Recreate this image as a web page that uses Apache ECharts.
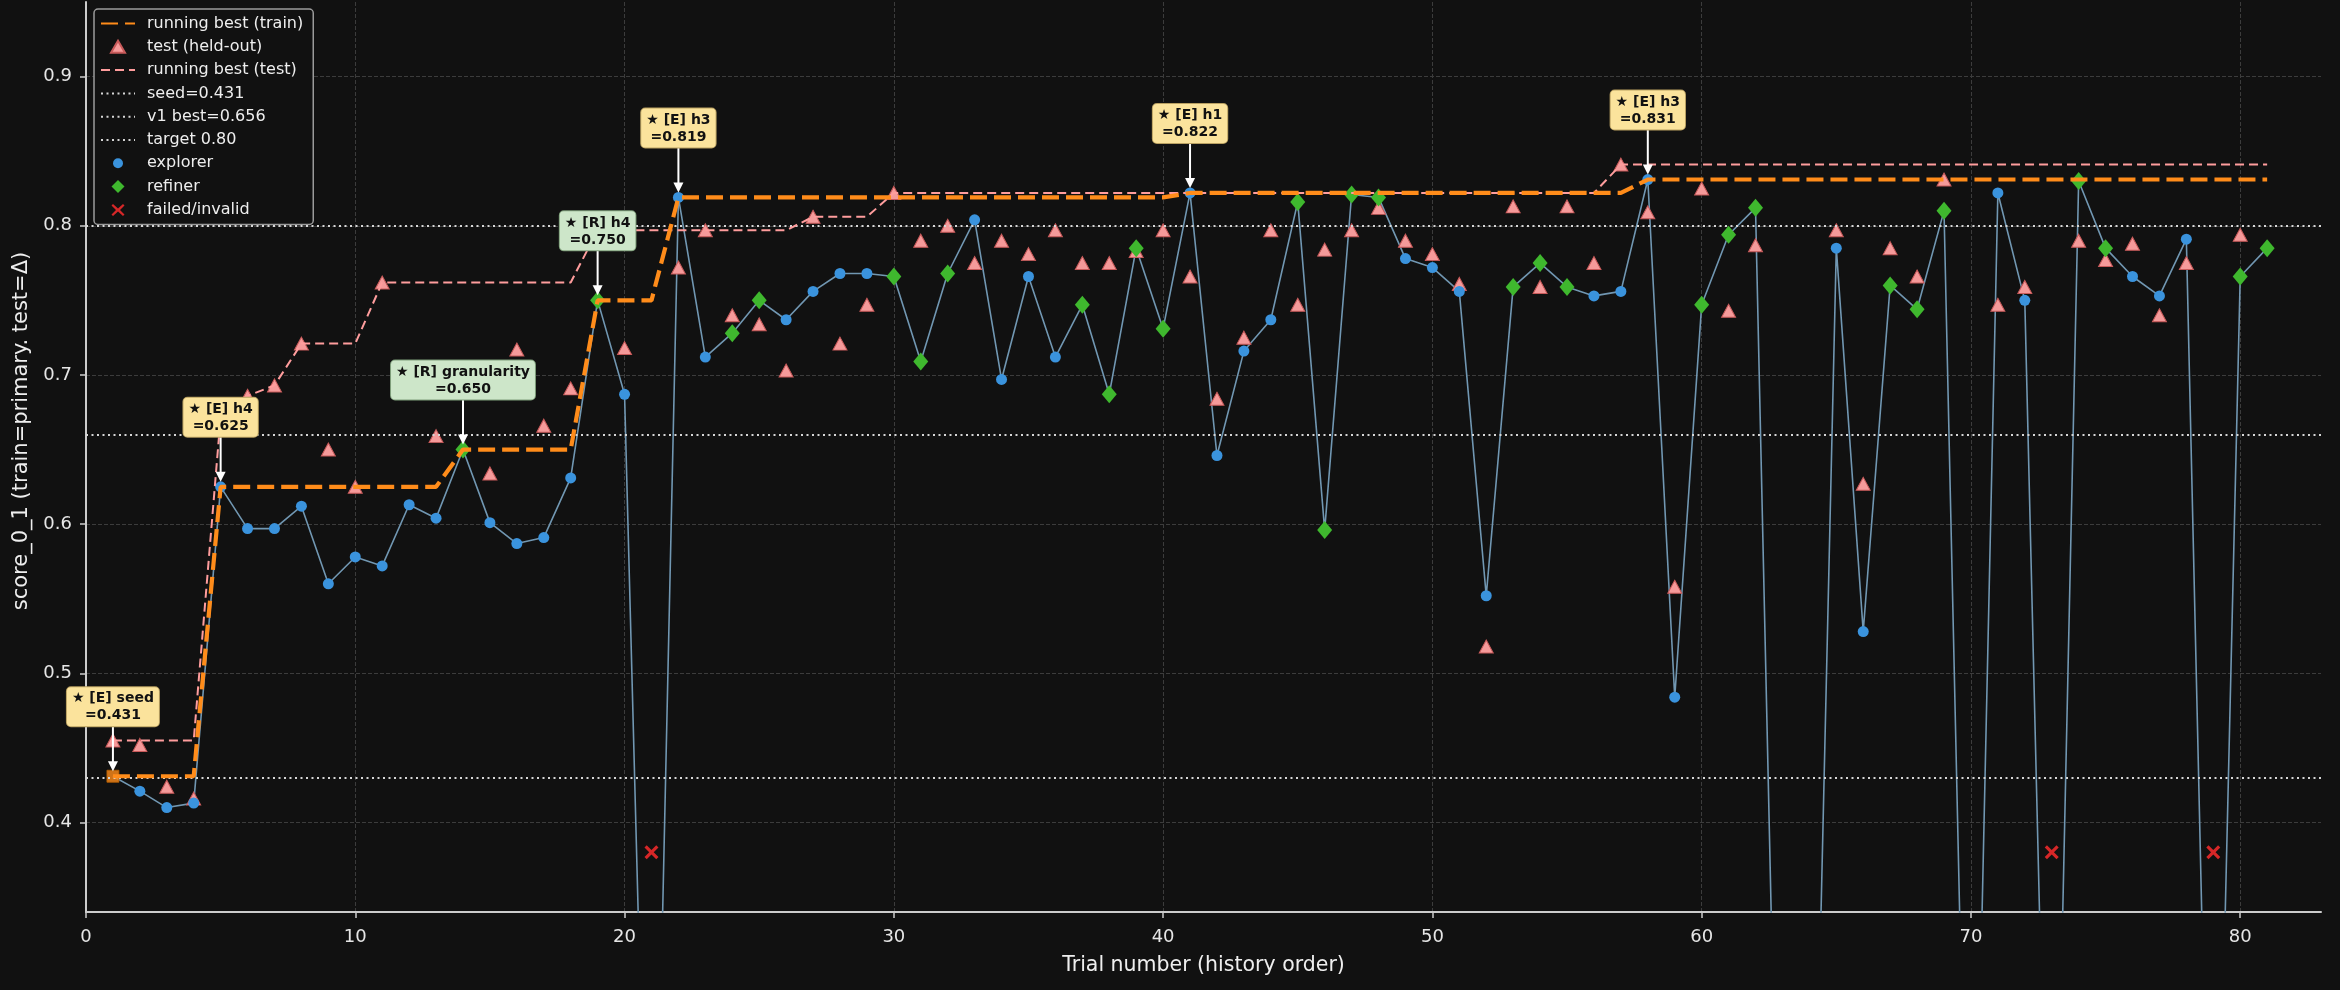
<!DOCTYPE html>
<html lang="en">
<head>
  <meta charset="UTF-8">
  <title>trial history</title>
  <script src="https://cdn.jsdelivr.net/npm/echarts@6/dist/echarts.min.js"></script>
  <style>
    html, body { margin: 0; padding: 0; background: #111111; }
    #chart { width: 2340px; height: 990px; }
  </style>
</head>
<body>
  <div id="chart"></div>
  <script>
    // train score per trial (trial number = index + 1), 0 = scored nothing / failed
    const trainScore = [
      0.431, 0.421, 0.410, 0.413, 0.625, 0.597, 0.597, 0.612, 0.560, 0.578,
      0.572, 0.613, 0.604, 0.650, 0.601, 0.587, 0.591, 0.631, 0.750, 0.687,
      0,     0.819, 0.712, 0.728, 0.750, 0.737, 0.756, 0.768, 0.768, 0.766,
      0.709, 0.768, 0.804, 0.697, 0.766, 0.712, 0.747, 0.687, 0.785, 0.731,
      0.822, 0.646, 0.716, 0.737, 0.816, 0.596, 0.821, 0.819, 0.778, 0.772,
      0.756, 0.552, 0.759, 0.775, 0.759, 0.753, 0.756, 0.831, 0.484, 0.747,
      0.794, 0.812, 0,     0,     0.785, 0.528, 0.760, 0.744, 0.810, 0,
      0.822, 0.750, 0,     0.830, 0.785, 0.766, 0.753, 0.791, 0,     0.766,
      0.785
    ];

    // S = seed, E = explorer, R = refiner, F = failed/invalid
    const roles = [
      'S', 'E', 'E', 'E', 'E', 'E', 'E', 'E', 'E', 'E',
      'E', 'E', 'E', 'R', 'E', 'E', 'E', 'E', 'R', 'E',
      'F', 'E', 'E', 'R', 'R', 'E', 'E', 'E', 'E', 'R',
      'R', 'R', 'E', 'E', 'E', 'E', 'R', 'R', 'R', 'R',
      'E', 'E', 'E', 'E', 'R', 'R', 'R', 'R', 'E', 'E',
      'E', 'E', 'R', 'R', 'R', 'E', 'E', 'E', 'E', 'R',
      'R', 'R', 'E', 'E', 'E', 'E', 'R', 'R', 'R', 'R',
      'E', 'E', 'F', 'R', 'R', 'E', 'E', 'E', 'F', 'R',
      'R'
    ];

    // held-out test score per trial, null where there is none
    const testScore = [
      0.455, 0.452, 0.424, 0.416, 0.672, 0.686, 0.693, 0.721, 0.650, 0.625,
      0.762, null,  0.659, null,  0.634, 0.717, 0.666, 0.691, 0.797, 0.718,
      null,  0.772, 0.797, 0.740, 0.734, 0.703, 0.806, 0.721, 0.747, 0.822,
      0.790, 0.800, 0.775, 0.790, 0.781, 0.797, 0.775, 0.775, 0.783, 0.797,
      0.766, 0.684, 0.725, 0.797, 0.747, 0.784, 0.797, 0.812, 0.790, 0.781,
      0.761, 0.518, 0.813, 0.759, 0.813, 0.775, 0.841, 0.809, 0.558, 0.825,
      0.743, 0.787, null,  null,  0.797, 0.627, 0.785, 0.766, 0.831, null,
      0.747, 0.759, null,  0.790, 0.777, 0.788, 0.740, 0.775, null,  0.794,
      null
    ];

    const seedScore = 0.431;
    const v1Best = 0.656;
    const targetScore = 0.80;
    const failedMarkY = 0.38;

    const xTicks = [0, 10, 20, 30, 40, 50, 60, 70, 80];
    const yTicks = [0.4, 0.5, 0.6, 0.7, 0.8, 0.9];

    // starred improvements
    const annotations = [
      { trial: 1,  text: '★ [E] seed',        role: 'E' },
      { trial: 5,  text: '★ [E] h4',          role: 'E' },
      { trial: 14, text: '★ [R] granularity', role: 'R' },
      { trial: 19, text: '★ [R] h4',          role: 'R' },
      { trial: 22, text: '★ [E] h3',          role: 'E' },
      { trial: 41, text: '★ [E] h1',          role: 'E' },
      { trial: 58, text: '★ [E] h3',          role: 'E' }
    ];

    const FONT = 'DejaVu Sans';
    const trials = trainScore.map((_, i) => i + 1);

    function pointsFor(role) {
      return trials.filter((t, i) => roles[i] === role).map(t => [t, trainScore[t - 1]]);
    }

    // running best lines
    let best = -Infinity;
    const bestTrain = trials.map((t, i) => {
      if (roles[i] !== 'F') best = Math.max(best, trainScore[i]);
      return [t, best];
    });
    best = -Infinity;
    const bestTest = trials.map((t, i) => {
      if (testScore[i] != null) best = Math.max(best, testScore[i]);
      return [t, best];
    });

    const refStyle = { color: '#d6d6d6', width: 2, type: [2, 3.5] };
    function refLine(name, value) {
      return {
        name: name,
        type: 'line',
        data: [],
        symbol: 'none',
        lineStyle: refStyle,
        itemStyle: { color: '#d6d6d6' },
        markLine: {
          silent: true,
          symbol: 'none',
          label: { show: false },
          lineStyle: refStyle,
          emphasis: { disabled: true },
          data: [{ yAxis: value }]
        },
        z: 1
      };
    }

    // legend icons: small marker centred in a 34x13 box (corner points keep the box size)
    const box = 'M0,0L0,0M34,13L34,13';
    const lineOnly = name => ({ name: name, itemStyle: { opacity: 0 } });
    const marker = (name, shape) => ({ name: name, icon: 'path://' + box + shape });

    const chart = echarts.init(document.getElementById('chart'));

    const option = {
      backgroundColor: '#111111',
      animation: false,
      textStyle: { fontFamily: FONT },
      grid: { left: 86, right: 19, top: 2, bottom: 78 },
      legend: {
        orient: 'vertical',
        left: 94,
        top: 9,
        padding: [6, 10, 6, 6],
        itemGap: 6.3,
        itemWidth: 34,
        itemHeight: 13,
        backgroundColor: '#111111',
        borderColor: '#9a9a9a',
        borderWidth: 1.5,
        borderRadius: 4,
        textStyle: { color: '#eeeeee', fontSize: 16, fontFamily: FONT, lineHeight: 17, padding: [0, 0, 0, 7] },
        data: [
          lineOnly('running best (train)'),
          marker('test (held-out)', 'M10,12.5L17,0.5L24,12.5Z'),
          lineOnly('running best (test)'),
          lineOnly('seed=0.431'), lineOnly('v1 best=0.656'), lineOnly('target 0.80'),
          marker('explorer', 'M12,6.5A5,5 0 1,0 22,6.5A5,5 0 1,0 12,6.5Z'),
          marker('refiner', 'M17,0L23.5,6.5L17,13L10.5,6.5Z'),
          marker('failed/invalid', 'M10.5,2L12,0.5L17,5L22,0.5L23.5,2L19,6.5L23.5,11L22,12.5L17,8L12,12.5L10.5,11L15,6.5Z')
        ]
      },
      xAxis: {
        type: 'value',
        min: 0,
        max: 83,
        name: 'Trial number (history order)',
        nameLocation: 'middle',
        nameGap: 43,
        nameTextStyle: { color: '#eeeeee', fontSize: 20.5, fontFamily: FONT },
        axisLine: { lineStyle: { color: '#cccccc', width: 2 } },
        axisTick: { customValues: xTicks, length: 6, lineStyle: { color: '#cccccc', width: 1.5 } },
        axisLabel: { customValues: xTicks, color: '#e6e6e6', fontSize: 18, margin: 16, fontFamily: FONT },
        splitLine: { show: true, lineStyle: { color: '#3c3c3c', width: 1, type: [4, 2] } }
      },
      yAxis: {
        type: 'value',
        min: 0.34,
        max: 0.95,
        name: 'score_0_1 (train=primary. test=Δ)',
        nameLocation: 'middle',
        nameGap: 47,
        nameTextStyle: { color: '#eeeeee', fontSize: 21, fontFamily: FONT, padding: [0, 0, 0, 52] },
        axisLine: { show: true, lineStyle: { color: '#cccccc', width: 2 } },
        axisTick: { show: true, customValues: yTicks, length: 6, lineStyle: { color: '#cccccc', width: 1.5 } },
        axisLabel: {
          customValues: yTicks, color: '#e6e6e6', fontSize: 18, margin: 14, fontFamily: FONT,
          formatter: v => v.toFixed(1)
        },
        splitLine: { show: true, lineStyle: { color: '#3c3c3c', width: 1, type: [4, 2] } }
      },
      series: [
        {
          name: 'train',
          type: 'line',
          data: trials.map((t, i) => [t, trainScore[i]]),
          symbol: 'none',
          lineStyle: { color: '#7197b2', width: 1.6 },
          silent: true,
          z: 2
        },
        refLine('seed=0.431', seedScore),
        refLine('v1 best=0.656', v1Best),
        refLine('target 0.80', targetScore),
        {
          name: 'test (held-out)',
          type: 'scatter',
          data: trials.map((t, i) => [t, testScore[i]]).filter(p => p[1] != null),
          symbol: 'triangle',
          symbolSize: [14, 13],
          itemStyle: { color: '#f59a9a', borderColor: '#c85a5a', borderWidth: 1, opacity: 1 },
          z: 3
        },
        {
          name: 'explorer',
          type: 'scatter',
          data: pointsFor('E'),
          symbol: 'circle',
          symbolSize: 11,
          itemStyle: { color: '#3a93dd', opacity: 1 },
          z: 4
        },
        {
          name: 'refiner',
          type: 'scatter',
          data: pointsFor('R'),
          symbol: 'diamond',
          symbolSize: [15, 18],
          itemStyle: { color: '#3fb82e', opacity: 1 },
          z: 4
        },
        {
          name: 'seed trial',
          type: 'scatter',
          data: pointsFor('S'),
          symbol: 'rect',
          symbolSize: 12,
          itemStyle: { color: '#ff8c1a', borderColor: '#b85f00', borderWidth: 1 },
          z: 4
        },
        {
          name: 'failed/invalid',
          type: 'scatter',
          data: pointsFor('F').map(p => [p[0], failedMarkY]),
          symbol: 'path://M0,1.6L1.6,0L5,3.4L8.4,0L10,1.6L6.6,5L10,8.4L8.4,10L5,6.6L1.6,10L0,8.4L3.4,5Z',
          symbolSize: 14,
          itemStyle: { color: '#d62728', opacity: 1 },
          z: 4
        },
        {
          name: 'running best (test)',
          type: 'line',
          data: bestTest,
          symbol: 'none',
          itemStyle: { color: '#ff9d9d' },
          lineStyle: { color: '#ff9d9d', width: 2, type: [9, 5] },
          z: 5
        },
        {
          name: 'running best (train)',
          type: 'line',
          data: bestTrain,
          symbol: 'none',
          itemStyle: { color: '#ff8c1a' },
          lineStyle: { color: '#ff8c1a', width: 4.2, type: [17, 7] },
          z: 6
        },
        {
          name: 'annotations',
          type: 'custom',
          data: annotations.map(a => [a.trial, trainScore[a.trial - 1]]),
          silent: true,
          z: 10,
          renderItem: function (params, api) {
            const a = annotations[params.dataIndex];
            const p = api.coord([api.value(0), api.value(1)]);
            const top = p[1] - 50;
            const isR = a.role === 'R';
            return {
              type: 'group',
              children: [
                {
                  type: 'line',
                  shape: { x1: p[0], y1: top, x2: p[0], y2: p[1] - 13 },
                  style: { stroke: '#ffffff', lineWidth: 2 }
                },
                {
                  type: 'polygon',
                  shape: { points: [[p[0] - 5, p[1] - 15], [p[0] + 5, p[1] - 15], [p[0], p[1] - 5]] },
                  style: { fill: '#ffffff' }
                },
                {
                  type: 'text',
                  x: p[0],
                  y: top,
                  style: {
                    text: a.text + '\n=' + api.value(1).toFixed(3),
                    fill: '#111111',
                    font: 'bold 14px "DejaVu Sans"',
                    lineHeight: 17,
                    align: 'center',
                    verticalAlign: 'bottom',
                    backgroundColor: isR ? '#cde6c9' : '#fbe39c',
                    borderColor: isR ? '#7f9f7b' : '#b9a061',
                    borderWidth: 1,
                    borderRadius: 4,
                    padding: [3, 5, 2, 5]
                  }
                }
              ]
            };
          }
        }
      ]
    };

    chart.setOption(option);
  </script>
</body>
</html>
